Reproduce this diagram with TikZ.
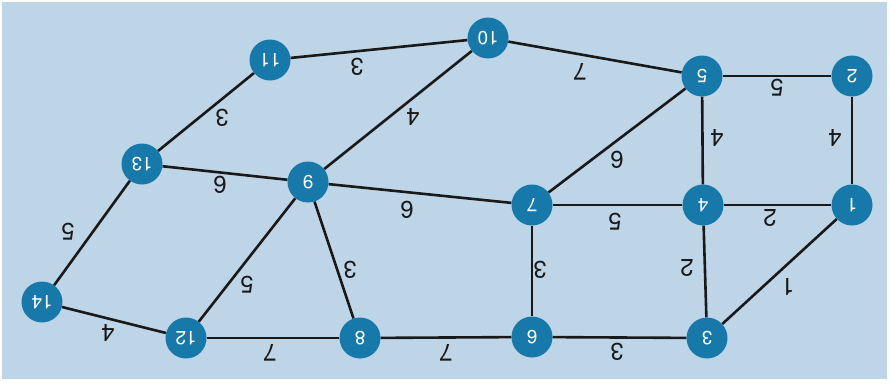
\documentclass[tikz,border=0pt]{standalone}
\usepackage{fontspec}
\setmainfont{TeX Gyre Heros}
\definecolor{bgblue}{RGB}{190,213,231}
\definecolor{nodeblue}{RGB}{22,121,170}
\definecolor{edgecol}{RGB}{25,25,25}
\tikzset{
  vert/.style={circle, fill=nodeblue, draw=none, minimum size=41pt, inner sep=0pt,
    text=white, font=\fontsize{19}{19}\selectfont, rotate=180},
  wlabel/.style={inner sep=0pt, text=edgecol, font=\fontsize{24}{24}\selectfont, rotate=180},
  link/.style={draw=edgecol, line width=2.6pt}
}
\begin{document}
\begin{tikzpicture}[x=1pt,y=-1pt]
\useasboundingbox (0,0) rectangle (890,383);
\fill[white] (0,0) rectangle (890,383);
\fill[bgblue] (2,2) rectangle (887,379);
% vertices
\node[vert] (n11) at (270,60) {11};
\node[vert] (n10) at (488,38) {10};
\node[vert] (n5) at (702,76) {5};
\node[vert] (n2) at (852,76) {2};
\node[vert] (n13) at (142,164) {13};
\node[vert] (n9) at (308,182) {9};
\node[vert] (n7) at (532,205) {7};
\node[vert] (n4) at (703,205) {4};
\node[vert] (n1) at (852,205) {1};
\node[vert] (n14) at (42,302) {14};
\node[vert] (n12) at (186,338) {12};
\node[vert] (n8) at (360,338) {8};
\node[vert] (n6) at (532,337) {6};
\node[vert] (n3) at (707,338) {3};
% edges
\foreach \a/\b in {n11/n10, n11/n13, n10/n9, n10/n5, n5/n2, n5/n7, n5/n4, n2/n1,
  n13/n9, n13/n14, n9/n7, n9/n12, n9/n8, n7/n4, n7/n6, n4/n1, n4/n3, n1/n3,
  n14/n12, n12/n8, n8/n6, n6/n3}
  \draw[link] (\a) -- (\b);
% weights
\node[wlabel] (w1) at (357,67) {3};
\node[wlabel] (w2) at (222,118) {3};
\node[wlabel] (w3) at (413,117) {4};
\node[wlabel] (w4) at (220,185) {6};
\node[wlabel] (w5) at (580,72) {7};
\node[wlabel] (w6) at (777,88) {5};
\node[wlabel] (w7) at (617,160) {6};
\node[wlabel] (w8) at (717,138) {4};
\node[wlabel] (w9) at (835,138) {4};
\node[wlabel] (w10) at (407,210) {6};
\node[wlabel] (w11) at (68,232) {5};
\node[wlabel] (w12) at (247,285) {5};
\node[wlabel] (w13) at (350,270) {3};
\node[wlabel] (w14) at (108,333) {4};
\node[wlabel] (w15) at (270,353) {7};
\node[wlabel] (w16) at (446,353) {7};
\node[wlabel] (w17) at (615,222) {5};
\node[wlabel] (w18) at (770,218) {2};
\node[wlabel] (w19) at (540,270) {3};
\node[wlabel] (w20) at (687,268) {2};
\node[wlabel] (w21) at (788,287) {1};
\node[wlabel] (w22) at (617,352) {3};
\end{tikzpicture}
\end{document}
